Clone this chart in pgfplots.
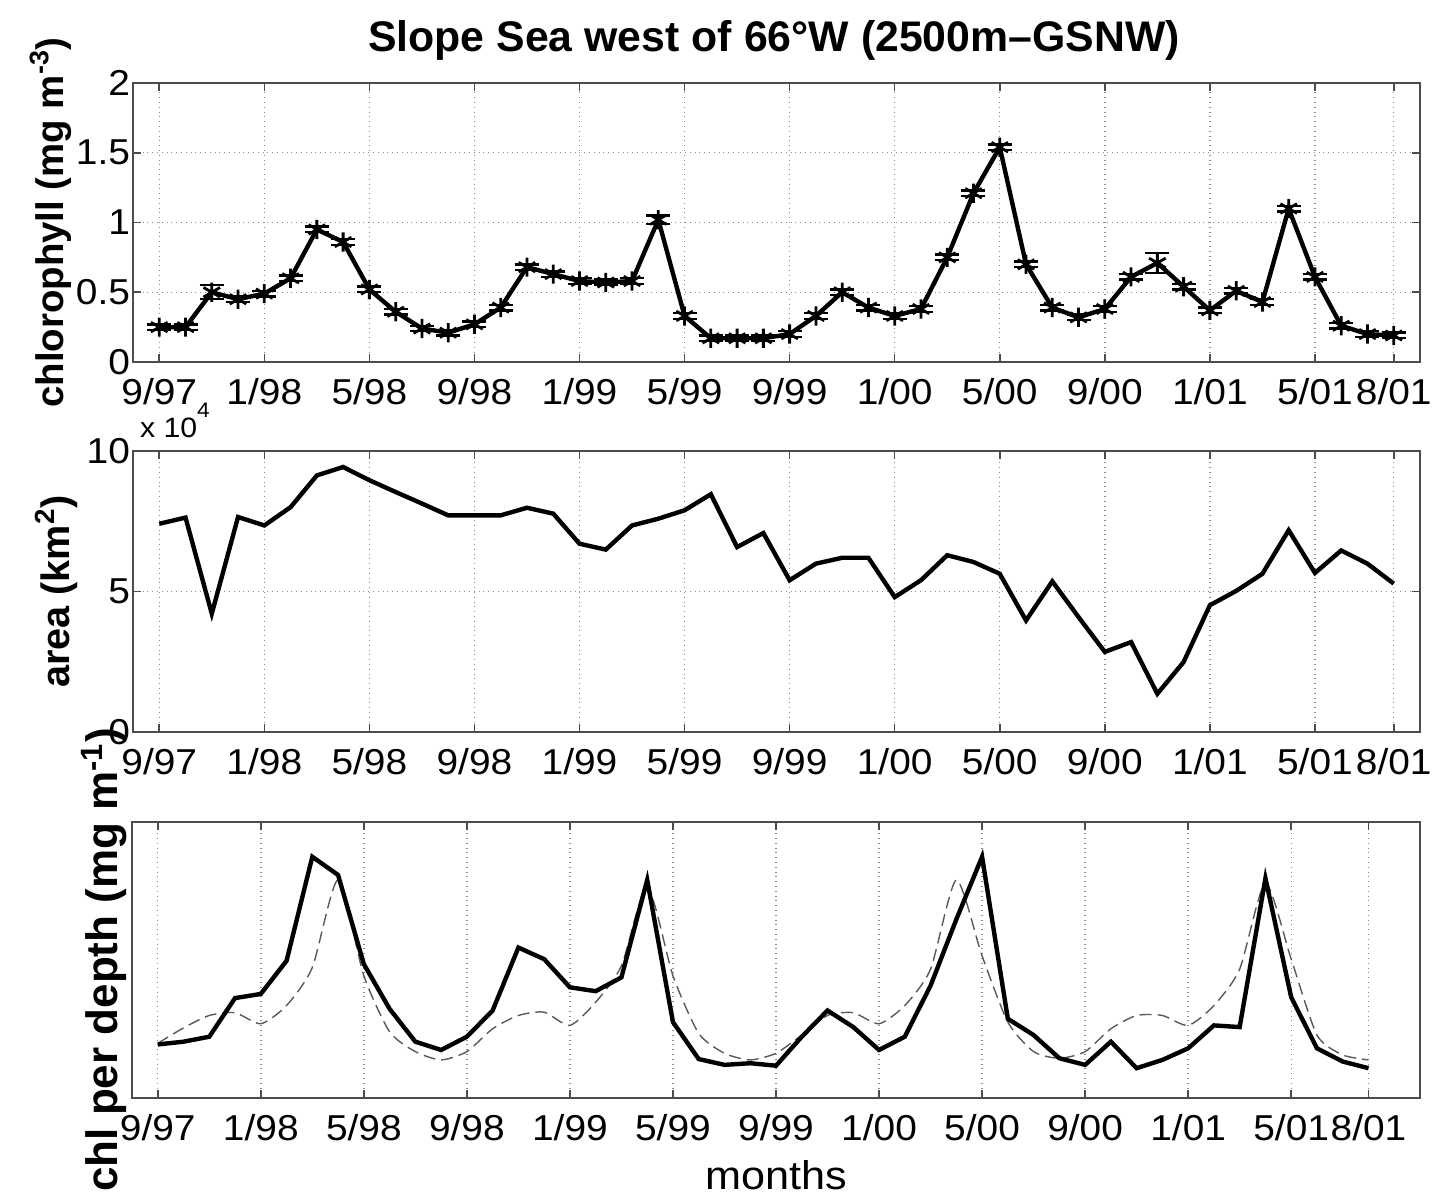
\documentclass[border=0pt]{standalone}
\usepackage{pgfplots}
\pgfplotsset{compat=1.18}
\usepackage{pgfplotstable}
\usepackage{fontspec}
\setmainfont{Liberation Sans}[FakeStretch=1.08]
\newfontfamily\titlefont{Liberation Sans}

\pgfplotstableread{
x y e
0 0.25 0.02
1 0.25 0.02
2 0.50 0.05
3 0.45 0.02
4 0.49 0.02
5 0.60 0.02
6 0.95 0.02
7 0.86 0.02
8 0.52 0.02
9 0.36 0.02
10 0.24 0.02
11 0.21 0.02
12 0.27 0.02
13 0.39 0.02
14 0.68 0.02
15 0.63 0.02
16 0.58 0.02
17 0.57 0.02
18 0.58 0.02
19 1.02 0.03
20 0.33 0.02
21 0.17 0.02
22 0.17 0.02
23 0.17 0.02
24 0.20 0.02
25 0.33 0.02
26 0.50 0.02
27 0.39 0.02
28 0.33 0.02
29 0.38 0.02
30 0.75 0.02
31 1.21 0.02
32 1.54 0.02
33 0.70 0.02
34 0.39 0.02
35 0.32 0.02
36 0.38 0.02
37 0.61 0.02
38 0.71 0.07
39 0.54 0.02
40 0.37 0.02
41 0.51 0.02
42 0.43 0.02
43 1.10 0.02
44 0.61 0.02
45 0.26 0.02
46 0.20 0.02
47 0.19 0.02
}\chltab

\pgfplotstableread{
x y
0 7.41
1 7.63
2 4.21
3 7.65
4 7.35
5 8.00
6 9.13
7 9.43
8 8.96
9 8.54
10 8.13
11 7.71
12 7.71
13 7.71
14 7.98
15 7.77
16 6.70
17 6.49
18 7.35
19 7.59
20 7.89
21 8.46
22 6.58
23 7.08
24 5.40
25 5.99
26 6.20
27 6.20
28 4.80
29 5.40
30 6.29
31 6.05
32 5.63
33 3.97
34 5.36
35 4.09
36 2.85
37 3.20
38 1.36
39 2.49
40 4.51
41 5.02
42 5.63
43 7.18
44 5.66
45 6.46
46 5.99
47 5.28
}\areatab

\pgfplotstableread{
x s d
0 0.194 0.198
1 0.204 0.254
2 0.222 0.299
3 0.362 0.309
4 0.377 0.269
5 0.497 0.335
6 0.874 0.473
7 0.808 0.790
8 0.485 0.443
9 0.323 0.240
10 0.204 0.168
11 0.174 0.138
12 0.222 0.168
13 0.317 0.251
14 0.545 0.299
15 0.503 0.311
16 0.401 0.263
17 0.387 0.347
18 0.437 0.479
19 0.790 0.766
20 0.275 0.443
21 0.141 0.234
22 0.120 0.162
23 0.126 0.138
24 0.117 0.162
25 0.222 0.228
26 0.317 0.299
27 0.257 0.309
28 0.174 0.269
29 0.222 0.335
30 0.407 0.467
31 0.647 0.790
32 0.874 0.515
33 0.287 0.275
34 0.228 0.168
35 0.144 0.144
36 0.120 0.168
37 0.204 0.251
38 0.108 0.299
39 0.138 0.299
40 0.180 0.263
41 0.263 0.335
42 0.257 0.467
43 0.796 0.778
44 0.365 0.503
45 0.180 0.228
46 0.132 0.156
47 0.108 0.138
}\depthtab

\pgfplotsset{
  panel/.style={
    scale only axis, anchor=south west,
    xtick={0,4,8,12,16,20,24,28,32,36,40,44,47},
    xticklabels={9/97,1/98,5/98,9/98,1/99,5/99,9/99,1/00,5/00,9/00,1/01,5/01,8/01},
    tick label style={font=\fontsize{18}{20}\selectfont},
    /pgf/number format/assume math mode=true,
    xmajorgrids,
    grid style={dotted, gray!90, line width=0.7pt},
    axis line style={gray!60!black, line width=0.8pt},
    tick style={gray!60!black, line width=0.8pt},
    tick align=inside, major tick length=4pt,
    xticklabel style={yshift=-4.5pt},
    yticklabel style={xshift=2pt},
  }
}

\begin{document}
\begin{tikzpicture}
\useasboundingbox (0,0) rectangle (723.5pt,599.5pt);

\node[font=\titlefont\bfseries\fontsize{21.4}{24}\selectfont] at (387pt,579.5pt) {Slope Sea west of 66°W (2500m–GSNW)};

% panel 1
\begin{axis}[panel, at={(66.5pt,418.5pt)}, width=643.5pt, height=139.5pt,
  xmin=-1, xmax=48, ymin=0, ymax=2,
  ytick={0,0.5,1,1.5,2}, yticklabels={0,0.5,1,1.5,2},
  ymajorgrids,
  ylabel={chlorophyll (mg m\textsuperscript{-3})},
  ylabel style={font=\titlefont\bfseries\fontsize{19.2}{21}\selectfont, at={(axis description cs:-0.054,0.5)}, anchor=base},
]
\addplot[black, line width=2.2pt, mark=asterisk, mark size=4.8pt,
  mark options={line width=1.4pt, solid},
  error bars/.cd, y dir=both, y explicit,
  error mark options={line width=1.2pt, mark size=6pt, rotate=90},
  error bar style={line width=1.2pt}]
  table[x=x, y=y, y error=e] {\chltab};
\end{axis}

% panel 2
\begin{axis}[panel, at={(66.5pt,233.5pt)}, width=643.5pt, height=140.5pt,
  xmin=-1, xmax=48, ymin=0, ymax=10,
  ytick={0,5,10}, yticklabels={0,5,10},
  ymajorgrids,
  ylabel={area (km\textsuperscript{2})},
  ylabel style={font=\titlefont\bfseries\fontsize{19.8}{22}\selectfont, at={(axis description cs:-0.049,0.5)}, anchor=base},
]
\addplot[black, line width=2.2pt] table[x=x, y=y] {\areatab};
\end{axis}
\node[anchor=base west, font=\fontsize{14}{16}\selectfont] at (66.5pt,380.5pt) {x 10\raisebox{10pt}{\fontsize{10.5}{12}\selectfont 4}};

% panel 3
\begin{axis}[panel, at={(66pt,50.5pt)}, width=644pt, height=138pt,
  xmin=-1, xmax=49, ymin=0, ymax=1,
  ytick=\empty,
  ylabel={chl per depth (mg m\textsuperscript{-1})},
  ylabel style={font=\titlefont\bfseries\fontsize{22}{24}\selectfont, at={(axis description cs:-0.011,0.5)}, anchor=base},
  xlabel={months},
  xlabel style={font=\fontsize{20}{22}\selectfont, at={(axis description cs:0.5,-0.279)}, anchor=center},
]
\addplot[gray!70!black, line width=0.7pt, dash pattern=on 6pt off 3pt, smooth, tension=0.4] table[x=x, y=d] {\depthtab};
\addplot[black, line width=2.2pt] table[x=x, y=s] {\depthtab};
\end{axis}
\end{tikzpicture}
\end{document}
